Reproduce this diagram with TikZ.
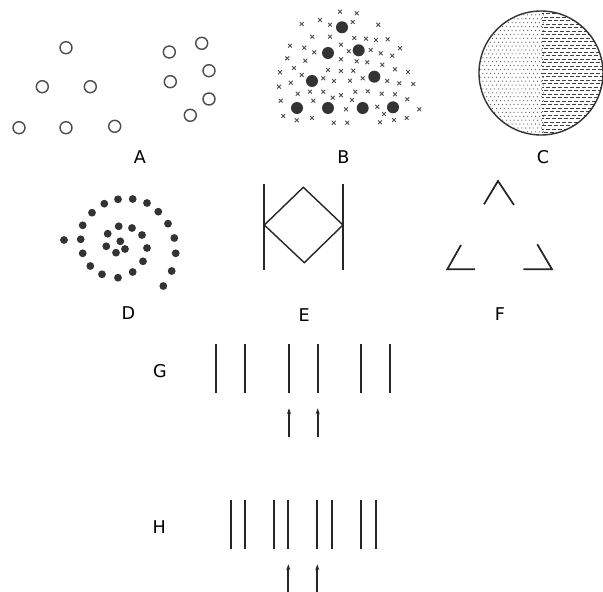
\documentclass[tikz,border=0pt]{standalone}
\usepackage{fontspec}
\setmainfont{DejaVu Sans}
\usetikzlibrary{arrows.meta}

\begin{document}
\begin{tikzpicture}[
  x=0.03cm, y=-0.03cm,
  ring/.style={draw=black!70,line width=1.2pt},
  blob/.style={fill=black!80},
  cross/.style={draw=black!70,line width=0.75pt},
  stroke/.style={draw=black!85,line width=1.5pt},
  edge/.style={draw=black!85,line width=1.2pt},
  arrow/.style={-{Stealth[length=5pt,width=3.5pt]},line width=1.5pt,black!85},
  lbl/.style={font=\fontsize{15}{17}\selectfont}
]
\useasboundingbox (0,0) rectangle (603,592);

% A: circles grouped by proximity
\foreach \p in {(66,47.7),(42.3,86.7),(90.3,86.7),(19,127.7),(66,127.7),(114.7,126.3),
                (169.3,52),(201.7,43.3),(209,70.7),(170.3,81.7),(209,99),(190.3,115.3)}
  \draw[ring] \p circle[radius=6];
\node[lbl] (labA) at (140,156.7) {A};

% B: big dots among crosses
\foreach \p in {(340,11.7),(356.7,13.3),(301.7,24),(320,20),(330,24.7),(352.7,22),(378.3,24.7),
  (312.3,36.7),(330,36.7),(354.3,38),(366,38.7),(376,40),(387.7,39.3),
  (290,45.7),(304.3,47.7),(314.3,52.3),(341,44.7),(348.7,51.3),(370.7,50),(380.7,53.3),(392.3,55.7),(400,48.3),
  (287.3,58.3),(305.3,60.7),(341,59.3),(356.7,61.3),(367.3,62.3),(382.3,64.7),
  (280,72.3),(294,68),(301.7,75),(328,70),(341,71),(353.3,70.7),(408,72),(395,69.3),
  (279,86.7),(290.7,82.7),(323.3,78.3),(334,81),(350,80.7),(362.7,78.3),(387.3,81),(399.3,83.3),(413.3,84),
  (297.7,93.7),(310,91.7),(323.3,91.7),(332.7,97.7),(341,95.3),(355.3,91.7),(367.7,91.3),(381.7,93.7),(395,94.3),
  (280.7,100.7),(313.3,100.7),(352,100),(377.3,106.7),(384,114),(346,109.3),(407.3,99.3),(419.3,109.3),
  (283.3,116),(296.7,120.3),(312,118),(333.7,122.7),(347.3,122.7),(380,122.3),(394,120),(406.7,118)}
  \draw[cross] \p +(-1.9,-1.9) -- +(1.9,1.9) +(-1.9,1.9) -- +(1.9,-1.9);
\foreach \p in {(342,27.3),(328,53),(358.7,50.3),(312,81),(374.3,76.7),
                (297,108),(328,108),(362.7,108),(393,107.3)}
  \fill[blob] \p circle[radius=6];
\node[lbl] (labB) at (343.3,156.7) {B};

% C: circle, dotted half and dashed half
\begin{scope}
  \clip (541,73) circle[radius=62];
  \foreach \i in {0,...,16}
    \foreach \j in {0,...,32}
      \fill[black!70] ({479+\i*3.9+mod(\j,2)*1.9},{11+\j*3.9}) circle[radius=0.6];
  \foreach \j in {0,...,36}
    \draw[black!75,line width=0.75pt,dash pattern=on 3.5pt off 1.6pt,dash phase={mod(\j,3)*1.7pt}]
      (542,{10+\j*3.5}) -- (604,{10+\j*3.5});
\end{scope}
\draw[ring,black!80] (541,73) circle[radius=62];
\node[lbl] (labC) at (543,157) {C};

% D: spiral of dots
\foreach \p in {(64,240),(80.7,239.3),(82.7,253.3),(90.3,266),(102,274.3),(118,277.7),(132.7,272),
  (143,261.3),(147,248),(142,235),(132,228),(118.7,226.3),(107.7,233.7),(106.3,246.3),(116,252.7),
  (125,249),(120.3,241.3),(82.7,225.3),(92,212.7),(104.3,203.7),(118,199.3),(132.7,199),(147,203),
  (158.3,211.7),(168,223.7),(174.3,238),(175.7,253.3),(171.7,271),(163.3,286)}
  \fill[blob] \p circle[radius=3.9];
\node[lbl] (labD) at (128.3,313.3) {D};

% E: diamond between bars
\draw[stroke] (264.3,184) -- (264.3,270);
\draw[stroke] (343,184) -- (343,270);
\draw[edge,line join=miter] (264.3,225) -- (303.3,187.3) -- (343,225) -- (304.3,262.7) -- cycle;
\node[lbl] (labE) at (304.3,315) {E};

% F: three corners
\draw[stroke] (484,204.3) -- (498,181) -- (514,205);
\draw[stroke] (461,245) -- (447.3,269.3) -- (475,269.3);
\draw[stroke] (537.3,244.3) -- (552,269.3) -- (523.3,269.3);
\node[lbl] (labF) at (500,314) {F};

% G: paired lines
\node[lbl] (labG) at (160,370.7) {G};
\foreach \x in {216,245,289,317.7,361.3,389.7}
  \draw[stroke] (\x,344) -- (\x,392.7);
\foreach \x in {289,317.7}
  \draw[arrow] (\x,437.3) -- (\x,408.3);

% H: closed pairs
\node[lbl] (labH) at (159.3,527.3) {H};
\foreach \x in {230.7,245,273.7,288.3,317.3,332.3,360.7,375.7}
  \draw[stroke] (\x,500) -- (\x,549);
\foreach \x in {288.3,317.3}
  \draw[arrow] (\x,593) -- (\x,564.3);
\end{tikzpicture}
\end{document}
